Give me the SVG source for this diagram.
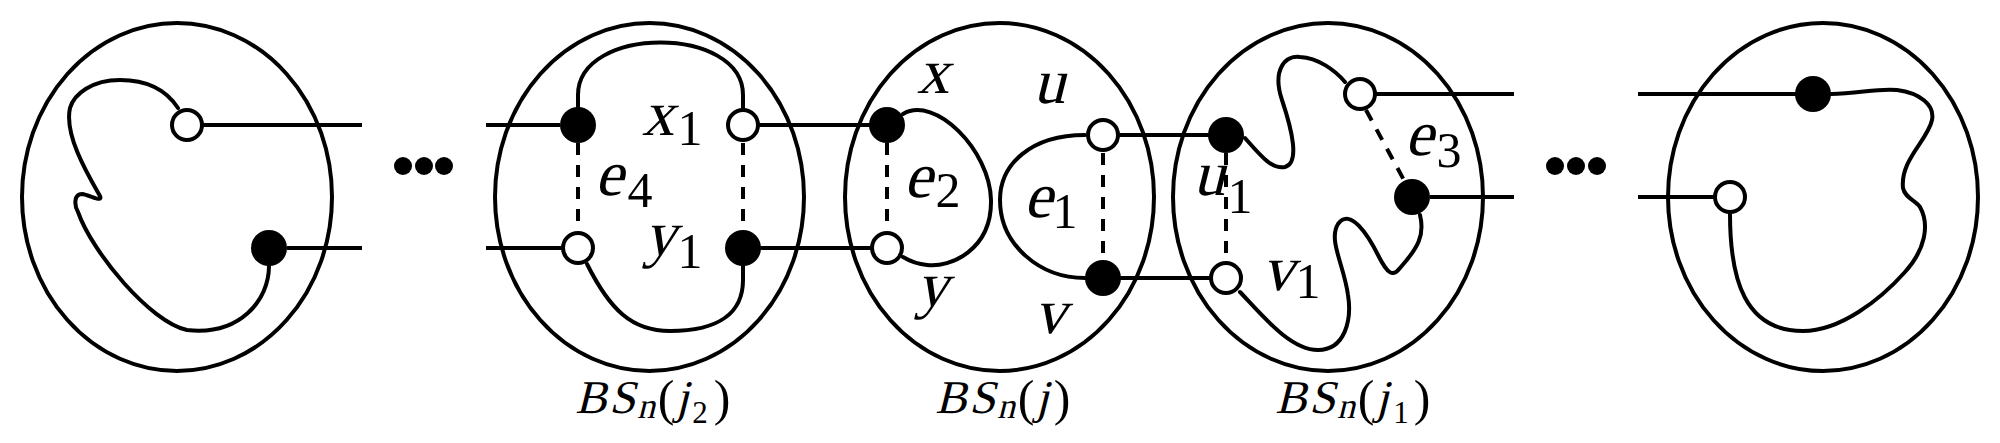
<svg xmlns="http://www.w3.org/2000/svg" width="2000" height="443" viewBox="0 0 2000 443" font-family="Liberation Serif, serif">
<style>
.ell{fill:none;stroke:#000;stroke-width:4}
.cur{fill:none;stroke:#000;stroke-width:4;stroke-linecap:round;stroke-linejoin:round}
.ln{stroke:#000;stroke-width:4;fill:none}
.ds{stroke:#000;stroke-width:4;stroke-dasharray:12 10;fill:none}
.op{fill:#fff;stroke:#000;stroke-width:4}
.fl{fill:#000}
text{text-anchor:middle;fill:#000}
.m{font-size:64px}
.s{font-size:50px}
.b{font-size:47px}
.bn{font-size:36px}
.bp{font-size:50px}
.bd{font-size:31px}
</style>
<rect width="2000" height="443" fill="#fff"/>
<g id="connectors">
<line class="ln" x1="200" y1="125" x2="362" y2="125"/>
<line class="ln" x1="287" y1="248" x2="362" y2="248"/>
<line class="ln" x1="486" y1="125" x2="560" y2="125"/>
<line class="ln" x1="486" y1="248" x2="563" y2="248"/>
<line class="ln" x1="758" y1="125" x2="870" y2="125"/>
<line class="ln" x1="760" y1="248" x2="872" y2="248"/>
<line class="ln" x1="1118" y1="135" x2="1210" y2="135"/>
<line class="ln" x1="1120" y1="278" x2="1211" y2="278"/>
<line class="ln" x1="1375" y1="94" x2="1514" y2="94"/>
<line class="ln" x1="1430" y1="197" x2="1514" y2="197"/>
<line class="ln" x1="1638" y1="94" x2="1800" y2="94"/>
<line class="ln" x1="1638" y1="197" x2="1715" y2="197"/>
</g>
<g id="dots-left"><circle class="fl" cx="403" cy="166" r="9"/><circle class="fl" cx="424" cy="166" r="9"/><circle class="fl" cx="444" cy="166" r="9"/></g>
<g id="dots-right"><circle class="fl" cx="1555" cy="166" r="9"/><circle class="fl" cx="1576" cy="166" r="9"/><circle class="fl" cx="1597" cy="166" r="9"/></g>
<g id="node-left">
<ellipse class="ell" cx="177" cy="197" rx="155" ry="174"/>
<path class="cur" d="M178,108 C165,88 145,80 120,80 C92,80 74,94 70,108 C64,135 88,175 100,196 C103,203 90,195 82,194 C74,194 74,205 78,212 C92,252 150,322 187,330 C240,336 269,300 269,266"/>
<circle class="op" cx="187" cy="125" r="15"/>
<circle class="fl" cx="269" cy="248" r="18"/>
</g>
<g id="node-j2" font-family="Liberation Serif">
<ellipse class="ell" cx="649.5" cy="197" rx="154.5" ry="174"/>
<path class="cur" d="M578,108 L578,95 C578,25 743,25 743,95 L743,108"/>
<path class="cur" d="M587,264 C610,310 632,331 670,331 C720,331 743,312 743,280 L743,266"/>
<line class="ds" x1="578" y1="143" x2="578" y2="231"/>
<line class="ds" x1="743" y1="143" x2="743" y2="231"/>
<circle class="fl" cx="578" cy="125" r="18"/>
<circle class="op" cx="743" cy="125" r="15"/>
<circle class="op" cx="578" cy="248" r="15"/>
<circle class="fl" cx="743" cy="248" r="18"/>
<g transform="translate(658,135) skewX(-14)"><text class="m" font-family="Liberation Serif">x</text></g>
<text class="s" font-family="Liberation Serif" x="690" y="145">1</text>
<g transform="translate(609,195) skewX(-14)"><text class="m" font-family="Liberation Serif">e</text></g>
<text class="s" font-family="Liberation Serif" x="640" y="207">4</text>
<g transform="translate(660,255) skewX(-14)"><text class="m" font-family="Liberation Serif">y</text></g>
<text class="s" font-family="Liberation Serif" x="690" y="268">1</text>
<g transform="translate(591,413) skewX(-14)"><text class="b" font-family="Liberation Serif">B</text></g>
<g transform="translate(622,413) skewX(-14)"><text class="b" font-family="Liberation Serif">S</text></g>
<g transform="translate(646,418) skewX(-14)"><text class="bn" font-family="Liberation Serif">n</text></g>
<text class="bp" font-family="Liberation Serif" x="666" y="415">(</text>
<g transform="translate(682,413) skewX(-14)"><text class="b" font-family="Liberation Serif">j</text></g>
<text class="bd" font-family="Liberation Serif" x="700" y="423">2</text>
<text class="bp" font-family="Liberation Serif" x="722" y="415">)</text>
</g>
<g id="node-j" font-family="Liberation Serif">
<ellipse class="ell" cx="999.5" cy="197" rx="154.5" ry="174"/>
<path class="cur" d="M903,114 C935,95 990,150 991,200 C992,250 950,268 927,265 C915,264 908,260 903,257"/>
<path class="cur" d="M1085,135 C1030,135 1000,165 1000,200 C1000,245 1040,278 1085,278"/>
<line class="ds" x1="887" y1="143" x2="887" y2="231"/>
<line class="ds" x1="1103" y1="153" x2="1103" y2="261"/>
<circle class="fl" cx="887" cy="125" r="18"/>
<circle class="op" cx="887" cy="248" r="15"/>
<circle class="op" cx="1103" cy="135" r="15"/>
<circle class="fl" cx="1103" cy="278" r="18"/>
<g transform="translate(933,93) skewX(-14)"><text class="m" font-family="Liberation Serif">x</text></g>
<g transform="translate(1049,103) skewX(-14)"><text class="m" font-family="Liberation Serif">u</text></g>
<g transform="translate(918,197) skewX(-14)"><text class="m" font-family="Liberation Serif">e</text></g>
<text class="s" font-family="Liberation Serif" x="948" y="207">2</text>
<g transform="translate(1038,217) skewX(-14)"><text class="m" font-family="Liberation Serif">e</text></g>
<text class="s" font-family="Liberation Serif" x="1065" y="228">1</text>
<g transform="translate(932,306) skewX(-14)"><text class="m" font-family="Liberation Serif">y</text></g>
<g transform="translate(1050,333) skewX(-14)"><text class="m" font-family="Liberation Serif">v</text></g>
<g transform="translate(951,413) skewX(-14)"><text class="b" font-family="Liberation Serif">B</text></g>
<g transform="translate(982,413) skewX(-14)"><text class="b" font-family="Liberation Serif">S</text></g>
<g transform="translate(1006,418) skewX(-14)"><text class="bn" font-family="Liberation Serif">n</text></g>
<text class="bp" font-family="Liberation Serif" x="1026" y="415">(</text>
<g transform="translate(1042,413) skewX(-14)"><text class="b" font-family="Liberation Serif">j</text></g>
<text class="bp" font-family="Liberation Serif" x="1062" y="415">)</text>
</g>
<g id="node-j1" font-family="Liberation Serif">
<ellipse class="ell" cx="1328" cy="197" rx="155" ry="174"/>
<path class="cur" d="M1245,138 C1260,155 1272,170 1285,167 C1300,163 1292,130 1282,100 C1272,70 1285,55 1300,57 C1318,58 1335,70 1345,82"/>
<path class="cur" d="M1240,292 C1262,315 1290,350 1318,350 C1345,350 1352,320 1348,295 C1344,265 1328,240 1338,224 C1350,207 1368,235 1378,255 C1388,275 1393,277 1400,268 C1418,248 1425,235 1420,215"/>
<line class="ds" x1="1226" y1="153" x2="1226" y2="261"/>
<line class="ds" x1="1366" y1="110" x2="1405" y2="182"/>
<circle class="fl" cx="1226" cy="135" r="18"/>
<circle class="op" cx="1226" cy="278" r="15"/>
<circle class="op" cx="1360" cy="94" r="15"/>
<circle class="fl" cx="1412" cy="197" r="18"/>
<g transform="translate(1209,195) skewX(-14)"><text class="m" font-family="Liberation Serif">u</text></g>
<text class="s" font-family="Liberation Serif" x="1240" y="213">1</text>
<g transform="translate(1278,290) skewX(-14)"><text class="m" font-family="Liberation Serif">v</text></g>
<text class="s" font-family="Liberation Serif" x="1308" y="298">1</text>
<g transform="translate(1419,155) skewX(-14)"><text class="m" font-family="Liberation Serif">e</text></g>
<text class="s" font-family="Liberation Serif" x="1449" y="167">3</text>
<g transform="translate(1291,413) skewX(-14)"><text class="b" font-family="Liberation Serif">B</text></g>
<g transform="translate(1322,413) skewX(-14)"><text class="b" font-family="Liberation Serif">S</text></g>
<g transform="translate(1346,418) skewX(-14)"><text class="bn" font-family="Liberation Serif">n</text></g>
<text class="bp" font-family="Liberation Serif" x="1366" y="415">(</text>
<g transform="translate(1382,413) skewX(-14)"><text class="b" font-family="Liberation Serif">j</text></g>
<text class="bd" font-family="Liberation Serif" x="1401" y="423">1</text>
<text class="bp" font-family="Liberation Serif" x="1422" y="415">)</text>
</g>
<g id="node-right">
<ellipse class="ell" cx="1823" cy="197" rx="155" ry="174"/>
<path class="cur" d="M1831,94 C1860,93 1880,88 1897,90 C1920,93 1935,105 1932,120 C1928,140 1900,160 1903,188 C1905,198 1915,200 1920,207 C1930,225 1925,250 1905,272 C1880,300 1840,331 1803,331 C1745,331 1730,280 1730,214"/>
<circle class="fl" cx="1813" cy="94" r="18"/>
<circle class="op" cx="1730" cy="197" r="15"/>
</g>
</svg>
